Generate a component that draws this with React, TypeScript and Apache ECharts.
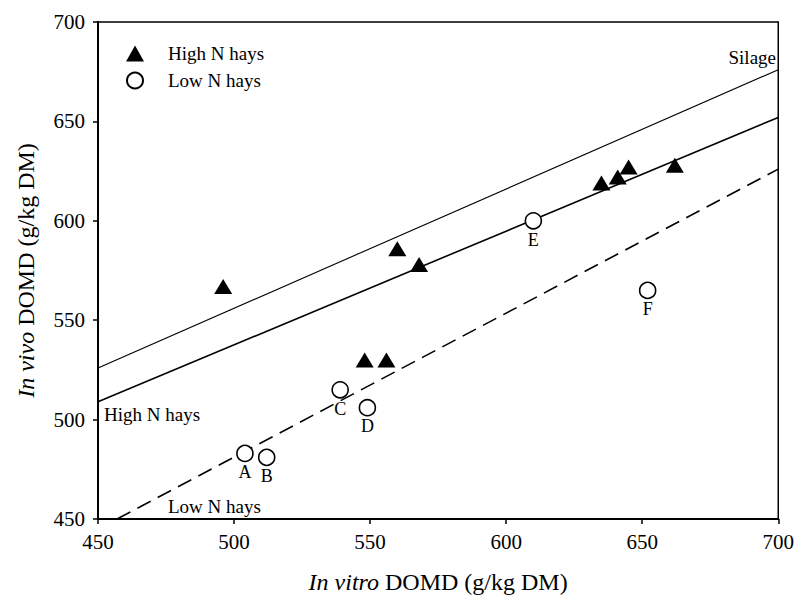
import React, { useEffect, useRef } from "react";
import * as echarts from "echarts";

const highN: [number, number][] = [
  [496, 567], [560, 586], [568, 578], [548, 530], [556, 530],
  [635, 619], [641, 622], [645, 627], [662, 628],
];
const lowN: [number, number][] = [
  [504, 483], [512, 481], [539, 515], [549, 506], [610, 600], [652, 565],
];
const lowNLabels = ["A", "B", "C", "D", "E", "F"];
const silageLine: [number, number][] = [[450, 526], [700, 676]];
const highNLine: [number, number][] = [[450, 509], [700, 652]];
const lowNLine: [number, number][] = [[457, 450], [700, 626]];
const xTicks = [450, 500, 550, 600, 650, 700];
const yTicks = [450, 500, 550, 600, 650, 700];

const FONT = "Liberation Serif";

export default function App() {
  const ref = useRef<HTMLDivElement>(null);
  useEffect(() => {
    document.body.style.margin = "0";
    const chart = echarts.init(ref.current!, null, { renderer: "svg" });
    const titleStyle = {
      fontFamily: FONT, fontSize: 24, color: "#000",
      rich: { i: { fontStyle: "italic", fontFamily: FONT, fontSize: 24, color: "#000" } },
    };
    chart.setOption({
      animation: false,
      backgroundColor: "#fff",
      textStyle: { fontFamily: FONT, color: "#000" },
      grid: {
        left: 98, right: 17, top: 22, bottom: 84,
        show: true, borderColor: "#000", borderWidth: 1.5,
      },
      legend: {
        orient: "vertical", left: 121, top: 39, itemGap: 8,
        itemWidth: 18, itemHeight: 16,
        textStyle: { fontFamily: FONT, fontSize: 19, color: "#000", padding: [0, 0, 0, 19] },
        data: [
          { name: "High N hays", icon: "triangle" },
          { name: "Low N hays", icon: "circle" },
        ],
      },
      xAxis: {
        type: "value", min: xTicks[0], max: xTicks[xTicks.length - 1], interval: 50,
        name: "{i|In vitro} DOMD (g/kg DM)", nameLocation: "middle", nameGap: 51,
        nameTextStyle: titleStyle,
        axisLine: { lineStyle: { color: "#000", width: 2 } },
        axisTick: { show: true, length: 5, lineStyle: { color: "#000", width: 1.5 } },
        axisLabel: { fontFamily: FONT, fontSize: 21, color: "#000", margin: 12 },
        splitLine: { show: false },
      },
      yAxis: {
        type: "value", min: yTicks[0], max: yTicks[yTicks.length - 1], interval: 50,
        name: "{i|In vivo} DOMD (g/kg DM)", nameLocation: "middle", nameGap: 60,
        nameTextStyle: titleStyle,
        axisLine: { lineStyle: { color: "#000", width: 2 } },
        axisTick: { show: true, length: 5, lineStyle: { color: "#000", width: 1.5 } },
        axisLabel: { fontFamily: FONT, fontSize: 21, color: "#000", margin: 13 },
        splitLine: { show: false },
      },
      series: [
        {
          name: "Silage", type: "line", data: silageLine, symbol: "none",
          lineStyle: { color: "#000", width: 1.1 }, silent: true,
        },
        {
          name: "High N hays line", type: "line", data: highNLine, symbol: "none",
          lineStyle: { color: "#000", width: 1.6 }, silent: true,
        },
        {
          name: "Low N hays line", type: "line", data: lowNLine, symbol: "none",
          lineStyle: { color: "#000", width: 1.6, type: [15, 8] }, silent: true,
        },
        {
          name: "High N hays", type: "scatter", data: highN, symbol: "triangle",
          symbolSize: [18, 15], itemStyle: { color: "#000", opacity: 1 }, z: 5,
        },
        {
          name: "Low N hays", type: "scatter", symbol: "circle", symbolSize: 16,
          data: lowN.map((p, i) => ({ value: p, name: lowNLabels[i] })),
          itemStyle: { color: "#fff", borderColor: "#000", borderWidth: 1.6, opacity: 1 }, z: 6,
          label: {
            show: true, position: "bottom", distance: 1, formatter: "{b}",
            fontFamily: FONT, fontSize: 18, color: "#000",
          },
        },
      ],
      graphic: [
        { type: "text", left: 104, top: 405, style: { text: "High N hays", font: `19px '${FONT}'`, fill: "#000" } },
        { type: "text", left: 168, top: 497, style: { text: "Low N hays", font: `19px '${FONT}'`, fill: "#000" } },
        { type: "text", right: 21, top: 48, style: { text: "Silage", font: `19px '${FONT}'`, fill: "#000" } },
      ],
    });
    return () => chart.dispose();
  }, []);
  return <div ref={ref} style={{ width: 797, height: 603 }} />;
}
